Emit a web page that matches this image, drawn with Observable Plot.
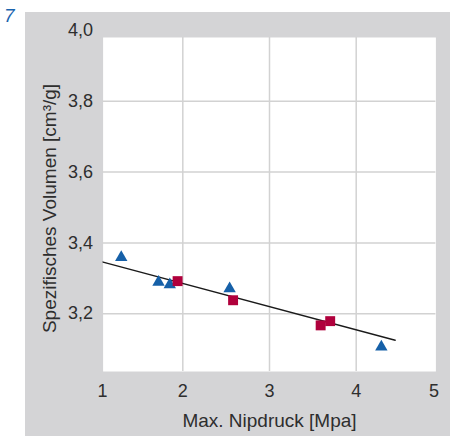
<!DOCTYPE html>
<html><head><meta charset="utf-8">
<script src="https://cdn.jsdelivr.net/npm/d3@7"></script>
<script src="https://cdn.jsdelivr.net/npm/@observablehq/plot@0.6"></script>
<style>
body{margin:0;background:#fff;}
#wrap{position:relative;width:450px;height:436px;overflow:hidden;}
#num{position:absolute;left:4px;top:5px;font:italic 19px "Liberation Sans",sans-serif;color:#1a64ae;}
#chart{position:absolute;left:25px;top:12px;}
</style></head><body>
<div id="wrap"><div id="num">7</div><div id="chart"></div></div>
<script>
// Series: blue triangles and crimson squares
const triX = [1.29, 1.72, 1.85, 2.54, 4.29];
const triY = [3.359, 3.289, 3.282, 3.271, 3.106];
const sqX = [1.94, 2.58, 3.59, 3.70];
const sqY = [3.292, 3.238, 3.167, 3.179];
// Trend line endpoints
const fitX = [1.08, 4.45];
const fitY = [3.346, 3.125];
// Ticks
const xTicks = [1, 2, 3, 4, 5];
const yTicks = [3.2, 3.4, 3.6, 3.8, 4.0];
const xGrid = [2, 3, 4];
const yGrid = [3.2, 3.4, 3.6, 3.8];
const xLabel = "Max. Nipdruck [Mpa]";
const yLabel = "Spezifisches Volumen [cm³/g]";

const tri = triX.map((x, i) => ({x, y: triY[i]}));
const sq = sqX.map((x, i) => ({x, y: sqY[i]}));
const fit = fitX.map((x, i) => ({x, y: fitY[i]}));
const fmt = d => d.toFixed(1).replace(".", ",");
const font = "'Liberation Sans',Arial,sans-serif";
const gridColor = "#d2d2d2";
const ink = "#2e2e2e";

const chart = Plot.plot({
  width: 425, height: 424,
  marginLeft: 70.6, marginRight: 7.6, marginTop: 18, marginBottom: 52,
  style: {background: "#d4d4d6", fontFamily: font, fontSize: "18px", color: ink},
  x: {domain: [1, 5]},
  y: {domain: [3, 4]},
  marks: [
    Plot.frame({fill: "white", stroke: null, insetLeft: 7, insetRight: 7, insetTop: 7, insetBottom: 13}),
    Plot.gridX(xGrid, {stroke: gridColor, strokeOpacity: 1, strokeWidth: 1.5, insetTop: 7, insetBottom: 13}),
    Plot.gridY(yGrid, {stroke: gridColor, strokeOpacity: 1, strokeWidth: 1.5, insetLeft: 7, insetRight: 7}),
    Plot.axisX(xTicks.slice(0, 1), {tickSize: 0, tickPadding: 0, dx: 6.5, label: null, color: ink}),
    Plot.axisX(xTicks.slice(1, 4), {tickSize: 0, tickPadding: 0, label: null, color: ink}),
    Plot.axisX(xTicks.slice(4), {tickSize: 0, tickPadding: 0, dx: -9, label: null, color: ink}),
    Plot.axisY(yTicks, {tickSize: 0, tickPadding: 3, tickFormat: fmt, label: null, color: ink}),
    Plot.text([xLabel], {frameAnchor: "bottom", textAnchor: "middle", lineAnchor: "middle", dy: 36, fontSize: 19, fill: ink}),
    Plot.text([yLabel], {frameAnchor: "left", textAnchor: "middle", lineAnchor: "middle", rotate: -90, dx: -46, dy: 1, fontSize: 19, fill: ink}),
    Plot.line(fit, {x: "x", y: "y", stroke: "#1a1a1a", strokeWidth: 1.3}),
    Plot.dot(tri, {x: "x", y: "y", symbol: "triangle", r: 4.6, fill: "#1660a8", stroke: null}),
    Plot.dot(sq, {x: "x", y: "y", symbol: "square", r: 5.6, fill: "#b0003c", stroke: null})
  ]
});
document.getElementById("chart").appendChild(chart);
</script>
</body></html>
